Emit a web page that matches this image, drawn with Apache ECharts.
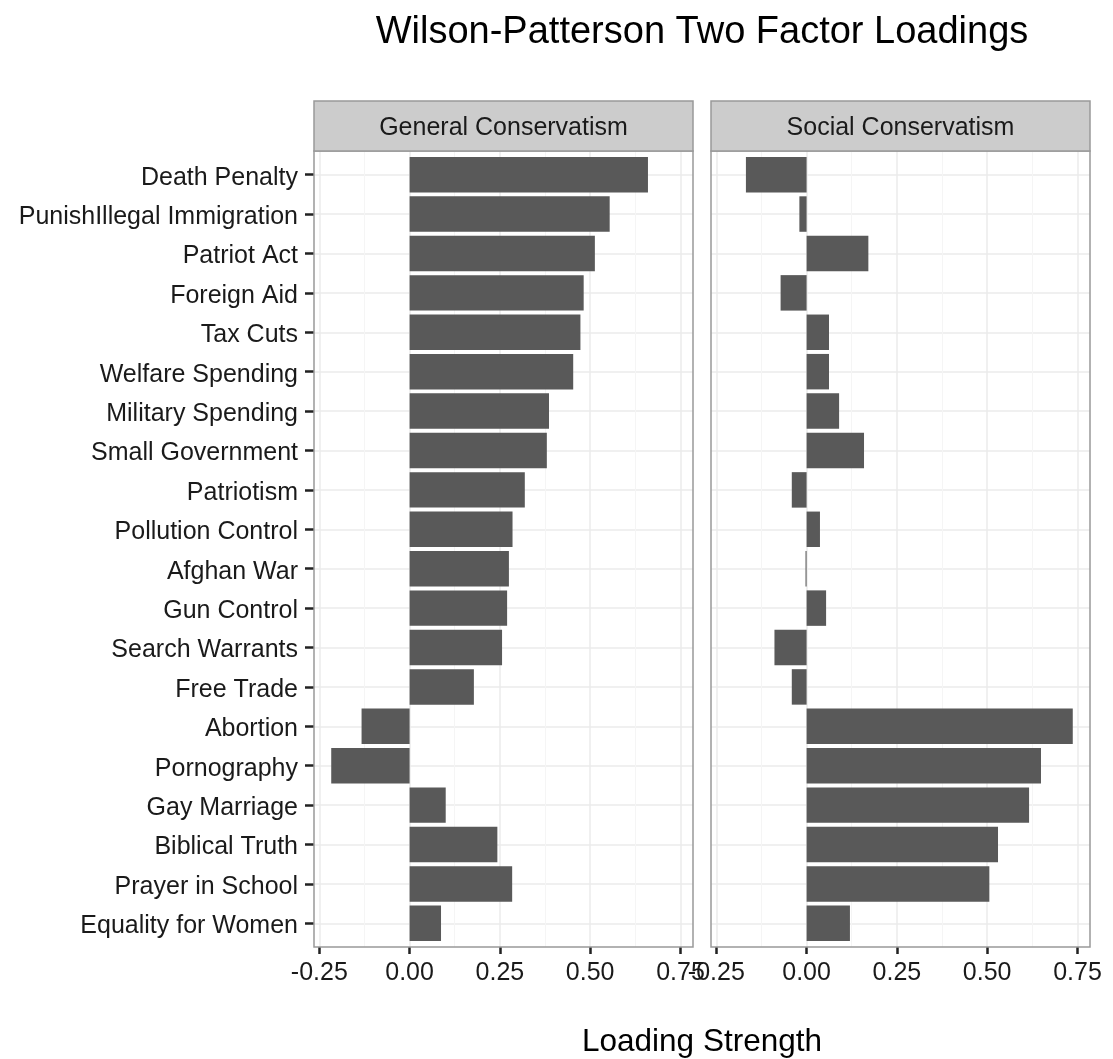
<!DOCTYPE html>
<html>
<head>
<meta charset="utf-8">
<script src="https://cdn.jsdelivr.net/npm/echarts@6/dist/echarts.min.js"></script>
<style>
  html, body { margin: 0; padding: 0; background: #fff; }
  #chart { width: 1113px; height: 1059px; }
</style>
</head>
<body>
<div id="chart"></div>
<script>
// items, top to bottom
const items = [
  'Death Penalty', 'PunishIllegal Immigration', 'Patriot Act', 'Foreign Aid',
  'Tax Cuts', 'Welfare Spending', 'Military Spending', 'Small Government',
  'Patriotism', 'Pollution Control', 'Afghan War', 'Gun Control',
  'Search Warrants', 'Free Trade', 'Abortion', 'Pornography',
  'Gay Marriage', 'Biblical Truth', 'Prayer in School', 'Equality for Women'
];
const facets = ['General Conservatism', 'Social Conservatism'];
const generalLoadings = [
  0.660, 0.554, 0.513, 0.482, 0.473, 0.453, 0.386, 0.380, 0.319, 0.285,
  0.275, 0.270, 0.256, 0.178, -0.133, -0.217, 0.100, 0.243, 0.284, 0.087
];
const socialLoadings = [
  -0.168, -0.020, 0.171, -0.072, 0.062, 0.062, 0.090, 0.159, -0.041, 0.037,
  -0.003, 0.054, -0.089, -0.041, 0.737, 0.649, 0.616, 0.530, 0.506, 0.120
];
const xTickMin = -0.25, xTickMax = 0.75, xTickStep = 0.25;

const chart = echarts.init(document.getElementById('chart'));
const font = "'Liberation Sans', Arial, Helvetica, sans-serif";

// layout (ggplot-like facets)
const panelTop = 151, panelBottom = 947;
const panelH = panelBottom - panelTop;
const panels = [{ left: 314, width: 379 }, { left: 711, width: 379 }];
// ggplot expands the data range by 5% each side
const allVals = generalLoadings.concat(socialLoadings);
const lo = Math.min(...allVals), hi = Math.max(...allVals);
const pad = (hi - lo) * 0.05;
const xMin = lo - pad, xMax = hi + pad;
// discrete axis: 0.6 band of padding each side
const band = panelH / (items.length - 1 + 1.2);

const grids = [], xAxes = [], yAxes = [], series = [], graphics = [];
const seriesData = [generalLoadings, socialLoadings];

panels.forEach((p, i) => {
  const scale = p.width / (xMax - xMin);
  const innerLeft = p.left + (xTickMin - xMin) * scale;
  const innerWidth = (xTickMax - xTickMin) * scale;

  // grid for vertical grid lines + x ticks/labels
  grids.push({ left: innerLeft, top: panelTop, width: innerWidth, height: panelH });
  xAxes.push({
    gridIndex: grids.length - 1, type: 'value',
    min: xTickMin, max: xTickMax, interval: xTickStep,
    axisLine: { show: false },
    axisTick: { length: 7, lineStyle: { color: '#222', width: 2.5 } },
    axisLabel: { fontSize: 25, color: '#1a1a1a', fontFamily: font, margin: 14,
      formatter: v => v.toFixed(2) },
    splitLine: { lineStyle: { color: '#EBEBEB', width: 1.5 } },
    minorTick: { show: false, splitNumber: 2 },
    minorSplitLine: { show: true, lineStyle: { color: '#F5F5F5', width: 1 } }
  });
  yAxes.push({ gridIndex: grids.length - 1, type: 'value', show: false, min: 0, max: 1 });

  // grid for horizontal grid lines + y labels (lines at band centers)
  grids.push({ left: p.left, top: panelTop + band * 0.6, width: p.width, height: band * (items.length - 1) });
  xAxes.push({ gridIndex: grids.length - 1, type: 'value', show: false, min: 0, max: 1 });
  yAxes.push({
    gridIndex: grids.length - 1, type: 'category', data: items, inverse: true,
    boundaryGap: false,
    axisLine: { show: false },
    axisTick: { show: i === 0, length: 9, interval: 0, lineStyle: { color: '#222', width: 2.5 } },
    axisLabel: { show: i === 0, interval: 0, margin: 16,
      formatter: v => '{t|' + v + '}',
      rich: { t: { fontSize: 25, color: '#1a1a1a', fontFamily: font, padding: [6, 0, 0, 0] } } },
    splitLine: { show: true, interval: 0, lineStyle: { color: '#EBEBEB', width: 1.5 } }
  });

  // grid for the bars
  grids.push({ left: innerLeft, top: panelTop + band * 0.1, width: innerWidth, height: band * items.length });
  xAxes.push({ gridIndex: grids.length - 1, type: 'value', show: false, min: xTickMin, max: xTickMax });
  yAxes.push({ gridIndex: grids.length - 1, type: 'category', data: items, inverse: true, show: false });
  series.push({
    type: 'bar', name: facets[i],
    xAxisIndex: grids.length - 1, yAxisIndex: grids.length - 1,
    data: seriesData[i], barWidth: '90%',
    itemStyle: { color: '#595959' }
  });

  // panel border and strip
  graphics.push({
    type: 'rect', z: 100,
    shape: { x: p.left, y: panelTop, width: p.width, height: panelH },
    style: { fill: 'none', stroke: '#999999', lineWidth: 1.5 }
  });
  graphics.push({
    type: 'rect', z: 100,
    shape: { x: p.left, y: 101, width: p.width, height: panelTop - 101 },
    style: { fill: '#CCCCCC', stroke: '#999999', lineWidth: 1.5 }
  });
  graphics.push({
    type: 'text', z: 101,
    x: p.left + p.width / 2, y: 128,
    style: { text: facets[i], fontSize: 25, fontFamily: font, fill: '#1a1a1a',
      textAlign: 'center', textVerticalAlign: 'middle' }
  });
});

chart.setOption({
  animation: false,
  backgroundColor: '#fff',
  title: [
    { text: 'Wilson-Patterson Two Factor Loadings', left: 702, top: 14, textAlign: 'center', padding: 0,
      textStyle: { fontSize: 38, fontWeight: 'normal', color: '#000', fontFamily: font } },
    { text: 'Loading Strength', left: 702, top: 1026, textAlign: 'center', padding: 0,
      textStyle: { fontSize: 31.5, fontWeight: 'normal', color: '#000', fontFamily: font } }
  ],
  grid: grids,
  xAxis: xAxes,
  yAxis: yAxes,
  series: series,
  graphic: graphics
});

window.addEventListener('resize', function () {
  chart.resize();
});
</script>
</body>
</html>
